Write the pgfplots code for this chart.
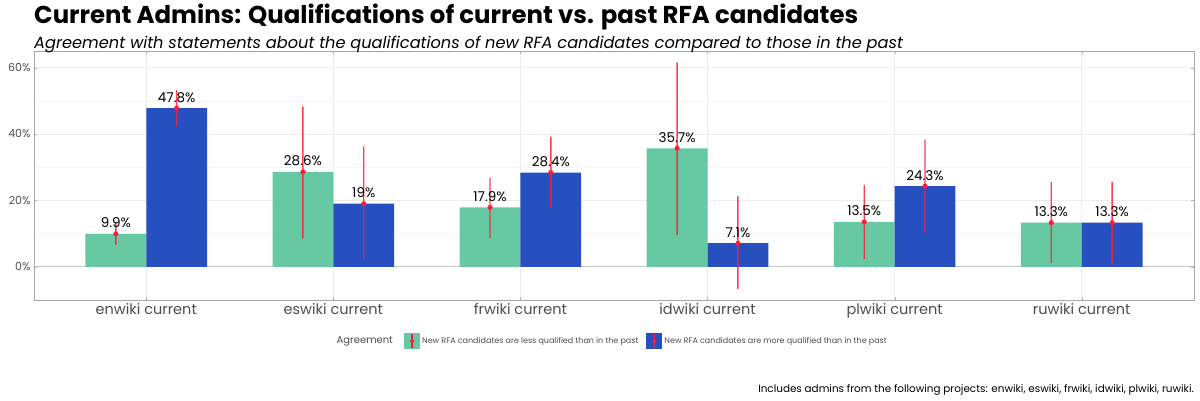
\documentclass[border=0pt]{standalone}
\usepackage{pgfplots}
\pgfplotsset{compat=1.18}
\usepackage{fontspec}
\setmainfont{Poppins}
\definecolor{lessq}{RGB}{102,201,164}
\definecolor{moreq}{RGB}{38,80,192}
\definecolor{errred}{RGB}{255,28,56}
\definecolor{tickgray}{RGB}{77,77,77}
\begin{document}
\begin{tikzpicture}
\begin{axis}[
  at={(0,0)}, anchor=south west,
  width=1160pt, height=249pt, scale only axis,
  xmin=-0.6, xmax=5.6, ymin=-10, ymax=65,
  xtick={0,...,5},
  xticklabels={enwiki current, eswiki current, frwiki current, idwiki current, plwiki current, ruwiki current},
  xticklabel style={font=\fontsize{14.5}{16}\selectfont, text=tickgray},
  ytick={0,20,40,60}, minor ytick={10,30,50},
  yticklabel={\pgfmathprintnumber{\tick}\%},
  yticklabel style={font=\fontsize{11}{13}\selectfont, text=tickgray},
  /pgf/number format/assume math mode=true,
  major tick length=3pt, minor tick length=0pt,
  tick style={gray!60},
  xmajorgrids, ymajorgrids, yminorgrids,
  major grid style={gray!15, line width=0.8pt},
  minor grid style={gray!8, line width=0.6pt},
  extra y ticks={0}, extra y tick labels={},
  extra y tick style={grid=major, major grid style={gray!45, line width=1pt}, major tick length=0pt},
  axis line style={gray!70},
  unbounded coords=jump,
  legend style={at={(0.528,-0.165)}, anchor=center, draw=none, fill=none,
    font=\fontsize{8}{9}\selectfont, text=tickgray, legend columns=2,
    /tikz/every even column/.append style={column sep=6pt}},
  barlabel/.style={nodes near coords={\pgfmathprintnumber{\pgfplotspointmeta}\%},
    every node near coord/.append style={font=\fontsize{13.5}{15}\selectfont, text=black, anchor=base, yshift=6pt}},
]
\addplot[ybar, bar width=0.325, bar shift=0pt, fill=lessq, draw=none, barlabel,
  legend image code/.code={
    \fill[lessq] (0pt,-8pt) rectangle (16pt,8pt);
    \fill[errred] (7.3pt,-7pt) rectangle (8.7pt,7pt);
    \fill[errred] (8pt,0pt) circle (2pt);}]
  coordinates {(-0.1625,9.9) (0.8375,28.6) (1.8375,17.9) (2.8375,35.7) (3.8375,13.5) (4.8375,13.3)};
\addlegendentry{New RFA candidates are less qualified than in the past}
\addplot[ybar, bar width=0.325, bar shift=0pt, fill=moreq, draw=none, barlabel,
  legend image code/.code={
    \fill[moreq] (0pt,-8pt) rectangle (16pt,8pt);
    \fill[errred] (7.3pt,-7pt) rectangle (8.7pt,7pt);
    \fill[errred] (8pt,0pt) circle (2pt);}]
  coordinates {(0.1625,47.8) (1.1625,19) (2.1625,28.4) (3.1625,7.1) (4.1625,24.3) (5.1625,13.3)};
\addlegendentry{New RFA candidates are more qualified than in the past}
% --- intervalos (inferior, superior) como franjas rellenas ---
\addplot[forget plot, sharp plot, no marks, draw=none, fill=errred, fill opacity=0.85]
  coordinates {
  (-0.1662,6.6) (-0.1588,6.6) (-0.1588,13.3) (-0.1662,13.3) (nan,nan)
  (0.1588,42.3) (0.1662,42.3) (0.1662,53.2) (0.1588,53.2) (nan,nan)
  (0.8338,8.6) (0.8412,8.6) (0.8412,48.3) (0.8338,48.3) (nan,nan)
  (1.1588,1.9) (1.1662,1.9) (1.1662,36.3) (1.1588,36.3) (nan,nan)
  (1.8338,8.7) (1.8412,8.7) (1.8412,26.8) (1.8338,26.8) (nan,nan)
  (2.1588,17.8) (2.1662,17.8) (2.1662,39.2) (2.1588,39.2) (nan,nan)
  (2.8338,9.6) (2.8412,9.6) (2.8412,61.6) (2.8338,61.6) (nan,nan)
  (3.1588,-6.7) (3.1662,-6.7) (3.1662,21.2) (3.1588,21.2) (nan,nan)
  (3.8338,2.3) (3.8412,2.3) (3.8412,24.7) (3.8338,24.7) (nan,nan)
  (4.1588,10.3) (4.1662,10.3) (4.1662,38.3) (4.1588,38.3) (nan,nan)
  (4.8338,1.0) (4.8412,1.0) (4.8412,25.5) (4.8338,25.5) (nan,nan)
  (5.1588,1.0) (5.1662,1.0) (5.1662,25.5) (5.1588,25.5)
  };
\addplot[forget plot, only marks, mark=*, mark size=2.3pt, color=errred]
  coordinates {(-0.1625,9.9) (0.8375,28.6) (1.8375,17.9) (2.8375,35.7) (3.8375,13.5) (4.8375,13.3)
    (0.1625,47.8) (1.1625,19) (2.1625,28.4) (3.1625,7.1) (4.1625,24.3) (5.1625,13.3)};
\end{axis}
\node[anchor=west, inner sep=0pt, font=\fontsize{24.4}{28}\selectfont\bfseries] at (0pt,283pt) {Current Admins: Qualifications of current vs. past RFA candidates};
\node[anchor=west, inner sep=0pt, font=\fontsize{16.2}{19}\selectfont\itshape] at (0pt,256pt) {Agreement with statements about the qualifications of new RFA candidates compared to those in the past};
\node[anchor=east, inner sep=0pt, font=\fontsize{10}{12}\selectfont, text=tickgray] at (359pt,-41pt) {Agreement};
\node[anchor=east, inner sep=0pt, font=\fontsize{10.4}{12}\selectfont] at (1160pt,-90pt) {Includes admins from the following projects: enwiki, eswiki, frwiki, idwiki, plwiki, ruwiki.};
\path[use as bounding box] (-34pt,-100pt) rectangle (1166pt,300pt);
\end{tikzpicture}
\end{document}
